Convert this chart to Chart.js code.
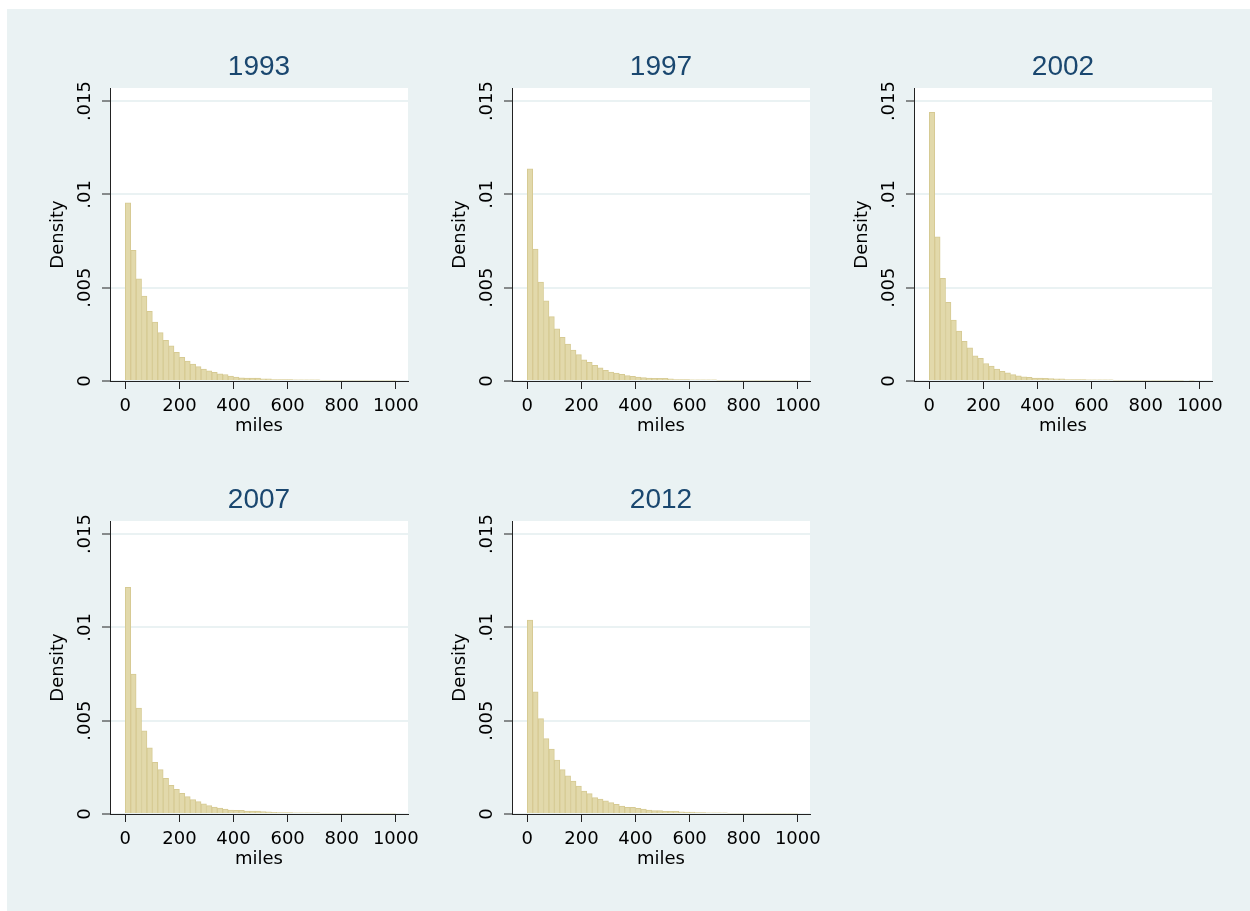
<!DOCTYPE html>
<html lang="en">
<head>
<meta charset="UTF-8">
<title>Density of miles by year</title>
<script src="https://cdn.jsdelivr.net/npm/chart.js"></script>
<style>
  body { margin: 0; background: #fff; width: 1250px; height: 911px; overflow: hidden; position: relative; }
  #bg { position: absolute; left: 7px; top: 9px; right: 0; bottom: 0; background: #eaf2f3; }
  canvas { position: absolute; }
</style>
</head>
<body>
<div id="bg"></div>
<canvas id="c0" width="420" height="397" style="left:10px;top:40px"></canvas>
<canvas id="c1" width="420" height="397" style="left:412px;top:40px"></canvas>
<canvas id="c2" width="420" height="397" style="left:814px;top:40px"></canvas>
<canvas id="c3" width="420" height="397" style="left:10px;top:473px"></canvas>
<canvas id="c4" width="420" height="397" style="left:412px;top:473px"></canvas>
<script>
// histogram bins: 20-mile wide, given by their centres
const binMiles = [10, 30, 50, 70, 90, 110, 130, 150, 170, 190,
  210, 230, 250, 270, 290, 310, 330, 350, 370, 390,
  410, 430, 450, 470, 490, 510, 530, 550, 570, 590,
  610, 630, 650, 670, 690, 710, 730, 750, 770, 790,
  810, 830, 850, 870, 890, 910, 930, 950, 970, 990];

const xTicks = [0, 200, 400, 600, 800, 1000];
const xTickLabels = ['0', '200', '400', '600', '800', '1000'];
const yTicks = [0, 0.005, 0.01, 0.015];
const yTickLabels = ['0', '.005', '.01', '.015'];
const years = ['1993', '1997', '2002', '2007', '2012'];

const density1993 = [.00955, .0070, .00548, .00455, .00373, .00316, .00259, .00218, .00188, .00154,
  .00127, .00107, .00091, .00077, .00064, .00054, .00047, .00038, .00035, .00027,
  .00021, .00017, .00016, .00015, .00015, .00012, .00011, .00008, .00007, .00007,
  .00007, .00006, .00006, .00006, .00006, .00006, .00005, .00005, .00005, .00005,
  .00005, .00005, .00005, .00004, .00004, .00004, .00004, .00004, .00004, .00004];
const density1997 = [.01137, .00707, .0053, .0043, .00345, .0028, .00234, .00198, .00166, .00141,
  .00113, .0010, .00084, .00071, .00057, .00048, .00043, .00036, .00029, .00025,
  .00021, .00018, .00015, .00014, .00014, .00014, .00012, .00008, .00007, .00007,
  .00006, .00006, .00006, .00006, .00006, .00005, .00005, .00005, .00005, .00005,
  .00005, .00005, .00004, .00004, .00004, .00004, .00004, .00004, .00004, .00004];
const density2002 = [.0144, .00772, .0055, .00422, .00327, .00267, .00212, .00178, .00135, .00121,
  .00094, .0008, .00064, .00052, .00044, .00034, .00028, .00023, .00019, .00016,
  .00015, .00014, .00013, .00012, .00011, .00008, .00007, .00007, .00007, .00006,
  .00006, .00006, .00006, .00006, .00005, .00005, .00005, .00005, .00005, .00005,
  .00005, .00004, .00004, .00004, .00004, .00004, .00004, 0, .00004, 0];
const density2007 = [.01214, .0075, .00568, .00445, .00355, .00277, .002375, .00191, .00154, .00132,
  .00111, .00093, .00077, .00066, .00055, .00045, .000375, .00032, .00027, .00021,
  .0002, .00019, .00016, .00016, .00016, .000125, .00012, .00009, .00007, .00007,
  .00007, .00006, .00006, .00006, .00006, .00006, .00005, .00005, .00005, .00005,
  .00005, .00005, .00005, .00004, .00004, .00004, .00004, .00004, .00004, .00004];
const density2012 = [.01039, .00654, .00511, .00404, .00348, .00289, .002375, .00204, .00177, .0015,
  .00123, .00109, .000875, .0008, .00071, .00061, .00052, .00043, .00036, .00036,
  .0003, .00027, .00021, .00018, .00018, .00014, .00014, .00014, .00011, .0001,
  .0001, .00007, .00007, .00006, .00006, .00006, .00006, .00005, .00005, .00005,
  .00005, .00005, .00005, .00005, .00004, .00004, .00004, .00004, .00004, .00004];

const seriesByYear = [density1993, density1997, density2002, density2007, density2012];

const plotBg = {
  id: 'plotBg',
  beforeDraw(chart) {
    const { ctx, chartArea: a } = chart;
    ctx.save();
    ctx.fillStyle = '#ffffff';
    ctx.fillRect(a.left, a.top, a.width, a.height);
    ctx.restore();
  }
};

const axisFont = { family: 'DejaVu Sans', size: 18, lineHeight: 1.2 };

function makePanel(canvasId, year, values) {
  const ctx = document.getElementById(canvasId).getContext('2d');
  return new Chart(ctx, {
    type: 'bar',
    data: {
      datasets: [{
        data: binMiles.map((m, i) => ({ x: m, y: values[i] })),
        backgroundColor: '#e2d9ab',
        borderColor: '#d6ca93',
        borderWidth: 1,
        barPercentage: 1,
        categoryPercentage: 1
      }]
    },
    options: {
      responsive: false,
      animation: false,
      layout: { padding: { top: 0, left: 0, bottom: 0, right: 22 } },
      plugins: {
        legend: { display: false },
        tooltip: { enabled: false },
        title: {
          display: true, text: year, fullSize: false,
          color: '#1a476f',
          font: { family: 'Liberation Sans', size: 28, weight: 'normal', lineHeight: 1.2 },
          padding: { top: 10, bottom: 4.4 }
        }
      },
      scales: {
        x: {
          type: 'linear', bounds: 'data', offset: false,
          min: -56.6, max: 1045,
          afterBuildTicks: s => { s.ticks = xTicks.map(v => ({ value: v })); },
          afterFit: s => { s.height = 56; },
          grid: { display: true, drawOnChartArea: false, offset: false, tickLength: 8, tickColor: '#222', tickWidth: 1 },
          border: { display: true, color: '#222', width: 1 },
          ticks: {
            color: '#000', font: axisFont, padding: 6.7, maxRotation: 0, autoSkip: false,
            callback: (v, i) => xTickLabels[i]
          },
          title: { display: true, text: 'miles', color: '#000', font: axisFont, padding: { top: 0, bottom: 0 } }
        },
        y: {
          type: 'linear', bounds: 'data',
          min: 0, max: 0.0157,
          afterBuildTicks: s => { s.ticks = yTicks.map(v => ({ value: v })); },
          afterFit: s => { s.width = 100; },
          grid: { color: '#eaf2f3', lineWidth: 2, tickLength: 8, tickColor: '#222', tickWidth: 1 },
          border: { display: true, color: '#222', width: 1 },
          ticks: {
            color: '#000', font: axisFont, padding: -3,
            minRotation: 90, maxRotation: 90, crossAlign: 'center', autoSkip: false,
            callback: (v, i) => yTickLabels[i]
          },
          title: { display: true, text: 'Density', color: '#000', font: axisFont, padding: { top: 38, bottom: 0 } }
        }
      }
    },
    plugins: [plotBg]
  });
}

years.forEach((yr, i) => makePanel('c' + i, yr, seriesByYear[i]));
</script>
</body>
</html>
